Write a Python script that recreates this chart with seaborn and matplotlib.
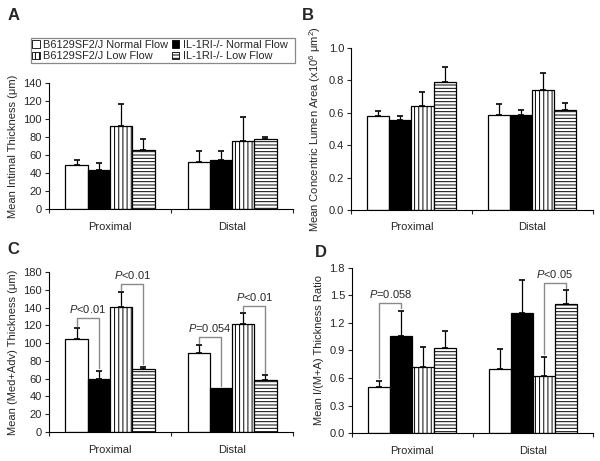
import numpy as np
import pandas as pd
import matplotlib
matplotlib.use("Agg")
import matplotlib.pyplot as plt
import seaborn as sns
from matplotlib.patches import Patch, Rectangle
from matplotlib.container import BarContainer
from matplotlib.ticker import FormatStrFormatter, MultipleLocator

# ---- data (rows = group, cols = Proximal / Distal) ----
categories = ["Proximal", "Distal"]
groups = ["B6129SF2/J Normal Flow", "IL-1RI-/- Normal Flow",
          "B6129SF2/J Low Flow", "IL-1RI-/- Low Flow"]

a_mean = [[48.5, 52], [43, 54], [92.5, 75.5], [66, 77.5]]
a_err = [[6, 13], [8, 10.5], [24.5, 26.5], [12, 2.5]]

b_mean = [[0.58, 0.585], [0.555, 0.585], [0.64, 0.74], [0.79, 0.62]]
b_err = [[0.03, 0.07], [0.025, 0.035], [0.087, 0.105], [0.09, 0.04]]

c_mean = [[105, 88.5], [60, 49], [141, 122], [70.5, 58]]
c_err = [[12, 9.5], [9, 0], [16, 12], [3, 6]]

d_mean = [[0.505, 0.70], [1.06, 1.31], [0.72, 0.62], [0.93, 1.405]]
d_err = [[0.065, 0.22], [0.275, 0.36], [0.215, 0.21], [0.18, 0.155]]

# brackets: (category index, group a, group b, bracket height, text)
c_brackets = [(0, 0, 1, 128, "<0.01"), (0, 2, 3, 166, "<0.01"),
              (1, 0, 1, 107, "=0.054"), (1, 2, 3, 141.5, "<0.01")]
d_brackets = [(0, 0, 1, 1.42, "=0.058"), (1, 2, 3, 1.635, "<0.05")]

sns.set_style("ticks")
plt.rcParams["font.family"] = ["Liberation Sans", "DejaVu Sans"]
plt.rcParams["mathtext.fontset"] = "custom"
plt.rcParams["mathtext.rm"] = "Liberation Sans"
plt.rcParams["mathtext.it"] = "Liberation Sans:italic"
plt.rcParams["hatch.linewidth"] = 0.7

faces = ["white", "black", "white", "white"]
hatches = ["", "", "||||", "-----"]


def draw_panel(ax, mean, err, ylim, step, ylabel, fmt, brackets=()):
    rows = []
    for g, name in enumerate(groups):
        for c, cat in enumerate(categories):
            rows.append({"cat": cat, "group": name, "value": mean[g][c]})
    df = pd.DataFrame(rows)
    sns.barplot(data=df, x="cat", y="value", hue="group", order=categories,
                hue_order=groups, palette=faces, edgecolor="black",
                linewidth=0.9, width=0.73, errorbar=None, legend=False, ax=ax)
    bar_conts = [cn for cn in ax.containers if isinstance(cn, BarContainer)]
    centers = {}
    for g, cont in enumerate(bar_conts):
        for c, bar in enumerate(cont.patches):
            bar.set_hatch(hatches[g])
            bar.set_facecolor(faces[g])
            xc = bar.get_x() + bar.get_width() / 2
            centers[(g, c)] = xc
            if err[g][c] > 0:
                ax.errorbar(xc, mean[g][c], yerr=[[0], [err[g][c]]], fmt="none",
                            ecolor="black", elinewidth=0.9, capsize=2.5,
                            capthick=1.2, zorder=1)
    gap = ylim * 0.015
    for c, g1, g2, top, txt in brackets:
        x1, x2 = centers[(g1, c)], centers[(g2, c)]
        y1 = mean[g1][c] + err[g1][c] + gap
        y2 = mean[g2][c] + err[g2][c] + gap
        ax.plot([x1, x1, x2, x2], [y1, top, top, y2], color="#8a8a8a", lw=1)
        ax.text((x1 + x2) / 2, top + ylim * 0.02, r"$\mathit{P}$" + txt,
                ha="center", va="bottom", fontsize=8)

    ax.set_ylim(0, ylim)
    ax.set_xlim(-0.5, 1.5)
    ax.yaxis.set_major_locator(MultipleLocator(step))
    ax.yaxis.set_major_formatter(FormatStrFormatter(fmt))
    ax.set_xticks([-0.5, 0.5, 1.5])
    ax.set_xticklabels([])
    ax.set_xticks([0, 1], minor=True)
    ax.set_xticklabels(categories, minor=True)
    ax.tick_params(axis="x", which="minor", length=0, labelsize=8, pad=9)
    ax.tick_params(axis="x", which="major", length=3, width=0.8)
    ax.tick_params(axis="y", length=3, width=0.8, labelsize=8, pad=2)
    ax.set_xlabel("")
    ax.set_ylabel(ylabel, fontsize=8)
    for s in ["left", "bottom"]:
        ax.spines[s].set_linewidth(0.8)
        ax.spines[s].set_color("black")
    sns.despine(ax=ax)


fig = plt.figure(figsize=(6, 4.61), dpi=100)
ax_a = fig.add_axes([0.0817, 0.5466, 0.4067, 0.2733])
ax_b = fig.add_axes([0.585, 0.5445, 0.403, 0.3514])
ax_c = fig.add_axes([0.0817, 0.0629, 0.4067, 0.347])
ax_d = fig.add_axes([0.5867, 0.0607, 0.4017, 0.358])

draw_panel(ax_a, a_mean, a_err, 140, 20, "Mean Intimal Thickness (μm)", "%d")
draw_panel(ax_b, b_mean, b_err, 1.0, 0.2,
           r"Mean Concentric Lumen Area (x10$^{6}$ μm$^{2}$)", "%.1f")
draw_panel(ax_c, c_mean, c_err, 180, 20, "Mean (Med+Adv) Thickness (μm)", "%d",
           c_brackets)
draw_panel(ax_d, d_mean, d_err, 1.8, 0.3, "Mean I/(M+A) Thickness Ratio", "%.1f",
           d_brackets)

for lbl, x, y in [("A", 0.012, 0.967), ("B", 0.503, 0.967),
                  ("C", 0.012, 0.458), ("D", 0.525, 0.453)]:
    fig.text(x, y, lbl, fontsize=12, fontweight="bold", va="center")

handles = [Patch(facecolor=faces[i], edgecolor="black", hatch=hatches[i],
                 linewidth=0.6) for i in [0, 2, 1, 3]]
labels = [groups[i] for i in [0, 2, 1, 3]]
fig.legend(handles, labels, ncol=2, loc="upper left",
           bbox_to_anchor=(0.054, 0.913), fontsize=7.9, frameon=False,
           handlelength=0.7, handleheight=0.7, handletextpad=0.3,
           columnspacing=0.3, labelspacing=0.1, borderpad=0.0,
           borderaxespad=0)
fig.patches.append(Rectangle((0.052, 0.863), 0.440, 0.0545,
                             transform=fig.transFigure, fill=False,
                             edgecolor="#888888", linewidth=0.9))

fig.savefig("out.png", dpi=100, facecolor="white")
